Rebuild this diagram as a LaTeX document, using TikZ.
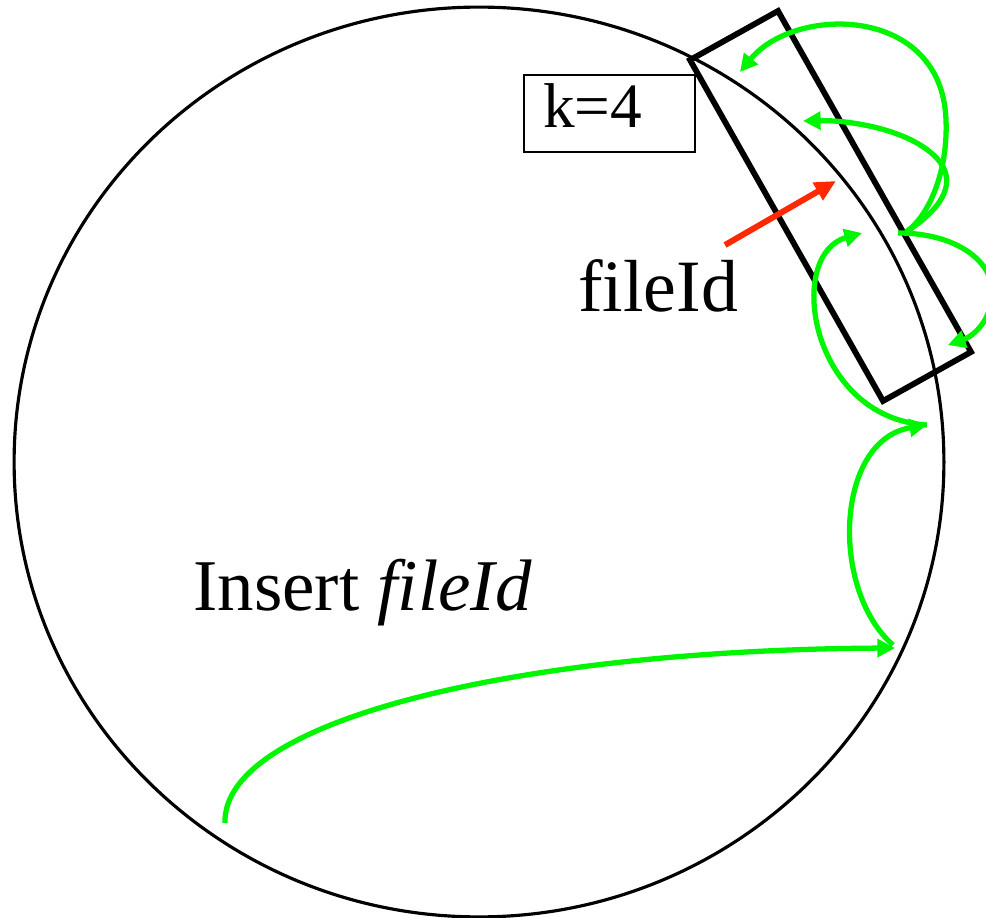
\documentclass[tikz,border=0pt]{standalone}
\usepackage{fontspec}
\setmainfont{Liberation Serif}
\usetikzlibrary{arrows.meta}
\definecolor{hopgreen}{RGB}{0,245,0}
\definecolor{keyred}{RGB}{255,40,0}
\tikzset{
  ring/.style={draw=black, line width=1.8pt},
  replbox/.style={draw=black, line width=3.3pt, line join=miter},
  kbox/.style={draw=black, line width=1.2pt, minimum width=3.42cm, minimum height=1.54cm, inner sep=0pt},
  hop/.style={draw=hopgreen, line width=3pt, -{Triangle[length=10pt,width=10pt]}},
  keyarrow/.style={draw=keyred, line width=3.4pt, -{Triangle[length=12pt,width=11pt]}},
  lbl/.style={inner sep=0pt, anchor=base west}
}
\begin{document}
\begin{tikzpicture}[x=0.02cm, y=-0.02cm]
\useasboundingbox (0,0) rectangle (986,918);
\clip (0,0) rectangle (986,918);
% ring
\draw[ring] (479,462) ellipse [x radius=9.3cm, y radius=9.1cm];
% replication window
\coordinate (r1) at (690,60);
\coordinate (r2) at (778,11);
\coordinate (r3) at (971,352);
\coordinate (r4) at (883,401);
\draw[replbox] (r1) -- (r2) -- (r3) -- (r4) -- cycle;
% k=4 box
\node[kbox, anchor=north west] (kb) at (523,74) {};
\node[lbl] (ktext) at (543,128) {\fontsize{36}{40}\selectfont k=4};
% labels
\node[lbl] (fid) at (578,312) {\fontsize{42}{46}\selectfont fileId};
\node[lbl] (ins) at (193,610) {\fontsize{41.5}{45}\selectfont Insert \textit{fileId}};
% hop points
\coordinate (n0) at (225,823);
\coordinate (n1) at (895,648);
\coordinate (n1s) at (893,645);
\coordinate (n2) at (927,425);
\coordinate (n3) at (862,233);
\coordinate (hubL) at (898,233);
\coordinate (hub) at (906,232);
\coordinate (s1) at (740,72);
\coordinate (s2) at (803,121);
\coordinate (s3) at (948,345);
\coordinate (ka) at (725,245);
\coordinate (kt) at (836,181);
% lookup hops
\draw[hop] (n0) .. controls (222,720) and (520,650) .. (n1);
\draw[hop] (n1s) .. controls (830,590) and (835,440) .. (n2);
\draw[hop] (n2) .. controls (810,418) and (785,255) .. (n3);
% replication to successors
\draw[hop] (hub) .. controls (930,215) and (948,170) .. (946,120) .. controls (942,5) and (795,5) .. (s1);
\draw[hop] (hub) .. controls (940,210) and (957,185) .. (940,162) .. controls (915,130) and (850,120) .. (s2);
\draw[hop] (hubL) .. controls (960,233) and (998,265) .. (992,300) .. controls (987,328) and (968,338) .. (s3);
% key arrow
\draw[keyarrow] (ka) -- (kt);
\end{tikzpicture}
\end{document}
